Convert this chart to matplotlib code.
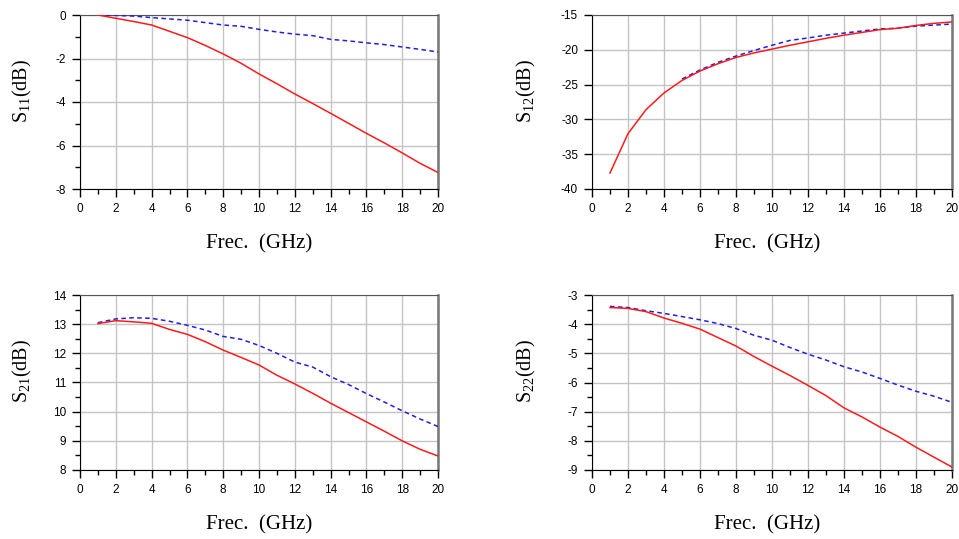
import matplotlib
matplotlib.use("Agg")
import matplotlib.pyplot as plt
from matplotlib.ticker import MultipleLocator

plt.rcParams['mathtext.fontset'] = 'custom'
plt.rcParams['mathtext.rm'] = 'Liberation Serif'
plt.rcParams['axes.unicode_minus'] = False

freq = list(range(1, 21))

s11_red = [0.0, -0.15, -0.3, -0.46, -0.75, -1.04, -1.4, -1.79, -2.22, -2.71, -3.16, -3.63, -4.07, -4.52,
           -4.98, -5.44, -5.88, -6.34, -6.82, -7.24]
s11_blue = [0.0, -0.02, -0.05, -0.12, -0.18, -0.24, -0.35, -0.46, -0.52, -0.66, -0.78, -0.88, -0.95, -1.12,
            -1.19, -1.28, -1.36, -1.47, -1.58, -1.7]

s12_red = [-37.7, -32.05, -28.6, -26.2, -24.4, -23.05, -22.0, -21.1, -20.45, -19.9, -19.35, -18.85, -18.35,
           -17.9, -17.5, -17.1, -16.9, -16.5, -16.2, -16.0]
freq12_blue = list(range(5, 21))
s12_blue = [-24.2, -22.9, -21.8, -20.9, -20.1, -19.35, -18.65, -18.3, -17.9, -17.6, -17.3, -17.0, -16.9,
            -16.6, -16.45, -16.3]

s21_red = [13.02, 13.12, 13.08, 13.03, 12.82, 12.65, 12.4, 12.11, 11.86, 11.6, 11.25, 10.95, 10.63, 10.29,
           9.97, 9.65, 9.33, 9.0, 8.71, 8.48]
s21_blue = [13.05, 13.18, 13.22, 13.2, 13.1, 12.96, 12.8, 12.58, 12.48, 12.27, 12.0, 11.7, 11.53, 11.2,
            10.93, 10.62, 10.33, 10.03, 9.75, 9.49]

s22_red = [-3.43, -3.46, -3.57, -3.79, -3.97, -4.17, -4.46, -4.75, -5.11, -5.44, -5.76, -6.1, -6.45, -6.87,
           -7.18, -7.53, -7.85, -8.22, -8.56, -8.9]
s22_blue = [-3.39, -3.43, -3.54, -3.63, -3.74, -3.85, -3.98, -4.15, -4.38, -4.55, -4.8, -5.03, -5.23, -5.46,
            -5.64, -5.86, -6.09, -6.3, -6.47, -6.68]

W, H = 959, 539
fig = plt.figure(figsize=(W / 100, H / 100), dpi=100)

panels = [
    dict(box=(80, 438, 15, 189), red=(freq, s11_red), blue=(freq, s11_blue), ylim=(-8, 0), major=2, minor=1,
         ylabel=r'S$_{11}$(dB)', ylx=22, xlx=259),
    dict(box=(592, 952, 15, 189), red=(freq, s12_red), blue=(freq12_blue, s12_blue), ylim=(-40, -15), major=5,
         minor=None, ylabel=r'S$_{12}$(dB)', ylx=526, xlx=767),
    dict(box=(80, 438, 295, 470), red=(freq, s21_red), blue=(freq, s21_blue), ylim=(8, 14), major=1, minor=0.5,
         ylabel=r'S$_{21}$(dB)', ylx=22, xlx=259),
    dict(box=(592, 952, 295, 470), red=(freq, s22_red), blue=(freq, s22_blue), ylim=(-9, -3), major=1,
         minor=0.5, ylabel=r'S$_{22}$(dB)', ylx=526, xlx=767),
]

for p in panels:
    x0, x1, y0, y1 = p['box']
    ax = fig.add_axes([x0 / W, 1 - y1 / H, (x1 - x0) / W, (y1 - y0) / H])
    ax.plot(p['blue'][0], p['blue'][1], color='#2020e0', lw=1.1, dashes=(3, 2.2), zorder=3)
    ax.plot(p['red'][0], p['red'][1], color='#ff1a1a', lw=1.1, zorder=4)
    ax.set_xlim(0, 20)
    ax.set_ylim(*p['ylim'])
    ax.xaxis.set_major_locator(MultipleLocator(2))
    ax.xaxis.set_minor_locator(MultipleLocator(1))
    ax.yaxis.set_major_locator(MultipleLocator(p['major']))
    if p['minor']:
        ax.yaxis.set_minor_locator(MultipleLocator(p['minor']))
    ax.grid(True, which='major', color='#c4c4c4', lw=1.0)
    ax.set_axisbelow(True)
    ax.tick_params(which='major', direction='out', length=6, width=1, color='black', labelsize=8.5, pad=4)
    ax.tick_params(which='minor', direction='out', length=3.5, width=1, color='black')
    for lab in ax.get_xticklabels() + ax.get_yticklabels():
        lab.set_fontfamily('Liberation Sans')
    ax.spines['left'].set_color('black')
    ax.spines['bottom'].set_color('black')
    ax.spines['top'].set_color('#555555')
    ax.spines['right'].set_color('#777777')
    ax.spines['right'].set_linewidth(1.8)
    fig.text(p['ylx'] / W, 1 - (y0 + 76) / H, p['ylabel'], rotation=90, ha='center', va='center',
             fontsize=14.5, family='Liberation Serif')
    fig.text(p['xlx'] / W, 1 - (y1 + 55) / H, 'Frec.  (GHz)', ha='center', va='center',
             fontsize=15, family='Liberation Serif')

fig.savefig('out.png', dpi=100)
